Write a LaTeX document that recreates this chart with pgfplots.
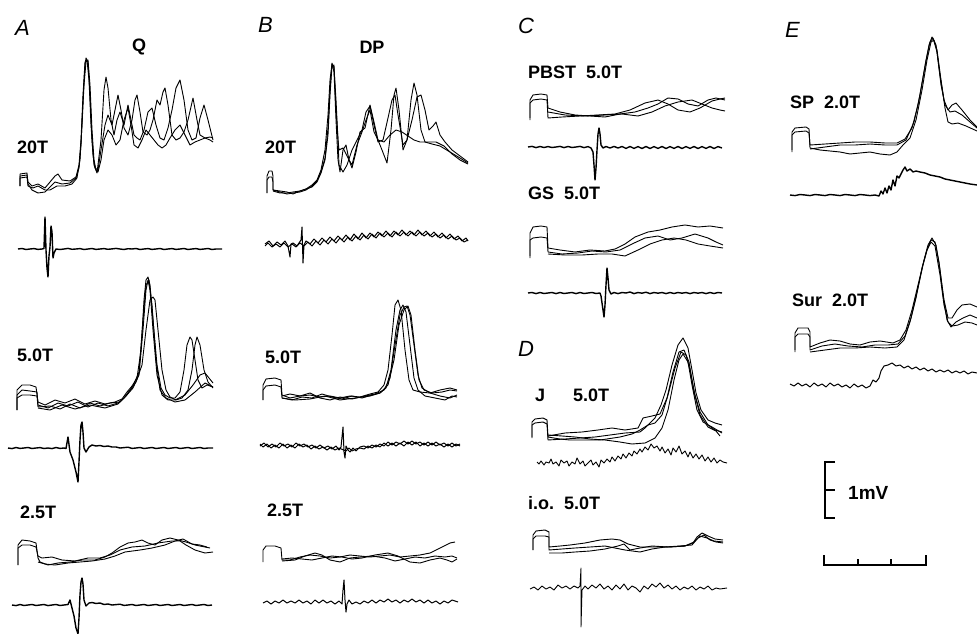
\documentclass[border=0pt]{standalone}
\usepackage{pgfplots}
\pgfplotsset{compat=1.18}
\usepackage{fontspec}
\setmainfont{Liberation Sans}
\pgfplotsset{tr/.style={black, line width=0.9pt, line join=round, no markers},
nz/.style={black, line width=1.4pt, line join=round, no markers},
bz/.style={black, line width=1.0pt, line join=round, no markers},
sb/.style={black, line width=1.6pt, no markers}}
\newcommand{\lab}[3]{\node[anchor=west,inner sep=0pt,font=\fontsize{18}{20}\selectfont\bfseries] at (axis cs:#1,#2) {#3};}
\newcommand{\pan}[3]{\node[anchor=west,inner sep=0pt,font=\fontsize{22}{24}\selectfont\itshape] at (axis cs:#1,#2) {#3};}
\begin{document}
\begin{tikzpicture}
\path[use as bounding box] (0,0) rectangle (977pt,634pt);
\begin{axis}[at={(0,0)},anchor=south west,x=1pt,y=1pt,xmin=0,xmax=977,ymin=0,ymax=634,y dir=reverse,hide axis,clip=false,scale only axis]
% ---------------- Panel A ----------------
\addplot[tr] coordinates {(20,186)(20,174)(27,173)(28,184)(32,190)(38,193)(45,192)(50,187)(55,182)(62,184)(70,183)(76,178)(79,168)(81,145)(83,100)(85,65)(86,58)(88,62)(90,95)(92,140)(94,165)(97,173)(101,140)(104,90)(106,77)(108,88)(111,120)(114,135)(117,120)(120,112)(124,125)(128,105)(131,120)(134,135)(137,138)(140,140)(144,130)(148,112)(152,108)(156,125)(160,138)(164,140)(168,128)(172,110)(176,88)(180,80)(184,100)(188,130)(192,140)(196,138)(200,118)(204,105)(208,120)(213,140)};
\addplot[tr] coordinates {(20,186)(20,176)(27,175)(28,182)(32,186)(38,184)(45,188)(50,182)(55,176)(58,174)(62,180)(70,181)(76,177)(79,165)(81,140)(83,95)(85,62)(87,60)(89,80)(91,125)(93,155)(95,168)(98,170)(101,150)(105,125)(108,115)(112,125)(115,110)(118,95)(121,110)(124,128)(128,135)(132,120)(135,100)(137,95)(140,112)(143,132)(147,135)(150,130)(153,120)(157,100)(160,105)(163,92)(165,88)(168,105)(172,135)(176,140)(180,138)(184,132)(188,120)(193,98)(197,120)(200,135)(205,138)(210,137)(213,138)};
\addplot[tr] coordinates {(20,186)(20,178)(27,177)(28,186)(33,188)(38,186)(45,190)(50,190)(57,186)(65,186)(72,184)(77,178)(80,160)(82,125)(84,85)(86,62)(88,60)(90,85)(92,130)(94,160)(96,170)(98,172)(101,160)(104,140)(108,130)(112,135)(116,145)(120,140)(124,120)(128,108)(131,125)(134,145)(138,148)(142,140)(146,130)(150,135)(154,140)(158,145)(162,148)(166,145)(170,138)(175,130)(180,125)(185,135)(190,145)(195,142)(200,140)(205,138)(210,140)(213,142)};
\addplot[nz] coordinates {(18,249)(22,248.5)(26,249.5)(30,249)(34,248.6)(38,249.4)(42,249)(44,248.5)(45,217)(46,250)(47,268)(48,277)(49,256)(50,247)(51,226)(52,232)(53,258)(54,253)(56,249)(60,249.5)(64,249)(68,248.4)(72,249.3)(76,249)(80,248.6)(84,249.5)(88,249)(92,248.5)(96,249.4)(100,249)(104,248.6)(108,249.3)(112,248.9)(116,248.4)(120,249)(124,249.5)(128,248.7)(132,249)(136,248.5)(140,249.5)(144,249)(148,248.6)(152,249.4)(156,249)(160,248.5)(164,249.5)(168,249)(172,248.6)(176,249.4)(180,249)(184,248.5)(188,249.5)(192,249)(196,248.6)(200,249.4)(204,249)(208,248.5)(212,249.5)(216,249)(222,249)};
\addplot[tr] coordinates {(17,410)(17,390)(22,385)(30,385)(36,387)(38,402)(45,405)(55,400)(65,403)(75,399)(85,404)(95,401)(105,404)(115,402)(122,399)(127,392)(132,386)(137,378)(141,350)(144,300)(146,280)(148,277)(150,285)(153,320)(157,365)(161,388)(165,395)(170,398)(175,398)(180,392)(184,370)(187,345)(190,337)(192,340)(195,360)(198,380)(202,388)(207,385)(213,387)};
\addplot[tr] coordinates {(17,410)(17,395)(22,390)(30,391)(37,392)(38,405)(48,408)(58,403)(68,406)(78,402)(88,407)(98,403)(108,406)(118,403)(124,398)(130,390)(136,382)(142,365)(146,330)(150,300)(153,297)(155,300)(158,330)(162,370)(166,390)(170,397)(176,400)(182,398)(188,390)(192,370)(195,345)(197,337)(200,345)(204,370)(208,382)(213,388)};
\addplot[tr] coordinates {(17,410)(17,398)(22,395)(30,395)(37,396)(38,407)(50,406)(60,409)(70,404)(80,408)(90,403)(100,406)(110,403)(120,402)(126,396)(133,388)(139,375)(143,330)(146,290)(148,280)(150,290)(153,330)(157,375)(162,395)(168,400)(175,400)(185,395)(193,385)(200,375)(205,373)(213,383)};
\addplot[tr] coordinates {(38,408)(50,410)(62,405)(75,409)(90,405)(105,408)(118,404)(126,396)(133,386)(139,372)(143,320)(146,285)(149,280)(152,305)(156,360)(160,390)(166,398)(175,402)(185,400)(195,392)(205,383)(213,387)};
\addplot[nz] coordinates {(8,448)(12,448.6)(16,447.5)(20,448.4)(24,448)(28,447.5)(32,448.5)(36,448)(40,447.6)(44,448.5)(48,448)(52,448.6)(56,447.5)(60,448.4)(64,448)(66,448.5)(68,437)(70,452)(73,460)(76,472)(78,482)(79,462)(80,440)(81,425)(82,422)(83,432)(84,448)(86,452)(89,447)(92,445)(96,446)(100,445.5)(104,446.5)(108,446)(112,447)(116,447)(120,448)(124,447.6)(128,447.2)(132,448.4)(136,448)(140,447.5)(144,448.5)(148,448)(152,447.5)(156,448.5)(160,448)(164,447.5)(168,448.5)(172,448)(176,447.5)(180,448.5)(184,448)(188,447.5)(192,448.5)(196,448)(200,447.5)(204,448.5)(208,448)(213,448)};
\addplot[tr] coordinates {(18,565)(18,545)(22,540)(30,541)(36,543)(38,558)(40,562)(48,565)(58,563)(70,562)(82,560)(95,560)(105,557)(112,553)(120,547)(128,543)(135,542)(142,540)(148,543)(155,545)(162,540)(170,538)(178,540)(186,542)(195,545)(205,547)(210,548)};
\addplot[tr] coordinates {(18,565)(18,548)(22,545)(30,545)(36,547)(38,556)(42,558)(52,557)(62,560)(75,561)(88,558)(100,558)(110,555)(120,550)(132,547)(145,546)(158,543)(172,541)(180,541)(186,545)(195,550)(205,553)(213,552)};
\addplot[tr] coordinates {(38,562)(45,564)(55,565)(68,563)(80,562)(92,561)(105,559)(115,556)(125,552)(140,550)(152,548)(165,545)(175,541)(183,539)(192,544)(200,545)(207,547)};
\addplot[nz] coordinates {(12,605)(16,605.6)(20,604.5)(24,605.5)(28,605)(32,604.5)(36,605.5)(40,605)(44,604.5)(48,605.6)(52,605)(56,604.5)(60,605.5)(64,605)(68,604.5)(70,600)(72,608)(74,616)(76,628)(78,634)(79,618)(80,595)(81,582)(82,578)(83,584)(84,600)(86,606)(89,603)(92,602.5)(96,603.5)(100,603)(104,604.5)(108,604)(112,605)(116,604.6)(120,604.2)(124,605.4)(128,605)(132,604.5)(136,605.5)(140,605)(144,604.5)(148,605.5)(152,605)(156,604.5)(160,605.5)(164,605)(168,604.5)(172,605.5)(176,605)(180,604.5)(184,605.5)(188,605)(192,604.5)(196,605.5)(200,605)(204,604.5)(208,605.5)(212,605)};
% ---------------- Panel B ----------------
\addplot[tr] coordinates {(267,193)(267,176)(269,171)(272,171)(273,176)(273,190)(280,192)(287,194)(293,193)(300,192)(306,190)(312,186)(317,181)(321,172)(325,158)(328,128)(330,90)(332,63)(334,72)(336,120)(338,160)(340,172)(343,150)(346,145)(349,160)(352,168)(356,152)(360,132)(365,128)(370,105)(374,122)(378,140)(382,150)(387,163)(391,130)(394,95)(396,88)(399,110)(403,150)(407,140)(411,100)(414,83)(417,95)(421,130)(425,142)(432,144)(440,146)(450,152)(460,158)(468,163)};
\addplot[tr] coordinates {(267,193)(267,180)(269,177)(272,177)(273,182)(273,190)(280,191)(287,192)(293,194)(300,191)(306,189)(312,185)(317,180)(321,170)(325,150)(328,115)(330,80)(332,64)(334,68)(336,100)(338,140)(339,165)(343,172)(347,165)(352,150)(358,138)(362,130)(366,112)(370,106)(374,125)(378,142)(383,140)(388,118)(392,100)(395,95)(398,115)(403,145)(407,140)(412,120)(417,97)(421,95)(425,110)(429,130)(433,126)(436,122)(440,135)(445,142)(452,150)(460,156)(468,162)};
\addplot[tr] coordinates {(273,191)(280,193)(287,193)(293,192)(300,191)(306,189)(312,187)(317,182)(321,173)(325,160)(328,135)(330,95)(332,66)(334,65)(336,110)(338,140)(339,150)(343,148)(348,158)(352,165)(357,145)(362,132)(366,120)(370,110)(374,132)(378,140)(384,142)(390,135)(396,130)(402,132)(408,136)(414,140)(420,142)(428,142)(436,142)(444,146)(452,154)(460,160)(468,164)};
\addplot[bz] coordinates {(265,244)(269,241)(273,246)(277,242)(281,245)(285,241)(288,246)(290,257)(291,244)(293,243)(297,246)(301,240)(302,227)(303,263)(304,245)(306,241)(310,244)(314,239)(318,243)(322,238)(326,242)(330,237)(334,241)(338,236)(342,240)(346,235)(350,240)(354,234)(358,239)(362,233)(366,238)(370,233)(374,237)(378,232)(382,236)(386,231)(390,236)(394,231)(398,235)(402,230)(406,235)(410,231)(414,235)(418,230)(422,235)(426,231)(430,236)(434,232)(438,237)(442,233)(446,238)(450,234)(454,239)(458,236)(462,241)(466,238)(468,241)};
\addplot[bz] coordinates {(265,246)(268,243)(272,247)(276,244)(280,247)(284,243)(288,247)(292,244)(296,247)(300,243)(304,246)(308,242)(312,246)(316,241)(320,245)(324,240)(328,244)(332,239)(336,243)(340,238)(344,242)(348,237)(352,241)(356,236)(360,240)(364,235)(368,239)(372,234)(376,238)(380,233)(384,237)(388,233)(392,237)(396,232)(400,236)(404,232)(408,236)(412,232)(416,236)(420,232)(424,236)(428,233)(432,237)(436,234)(440,238)(444,235)(448,239)(452,236)(456,240)(460,238)(464,242)(468,240)};
\addplot[tr] coordinates {(263,400)(263,385)(266,379)(275,378)(281,380)(282,395)(290,398)(300,396)(310,395)(320,397)(330,396)(340,398)(350,396)(360,397)(370,394)(378,392)(384,385)(388,370)(392,335)(395,305)(398,300)(401,310)(405,350)(409,380)(413,390)(420,392)(430,393)(440,390)(450,388)(457,390)};
\addplot[tr] coordinates {(263,400)(263,390)(266,386)(275,385)(281,387)(282,398)(292,400)(302,397)(312,398)(322,394)(332,397)(342,399)(352,396)(362,398)(372,395)(380,393)(386,388)(391,370)(396,330)(400,310)(403,305)(406,312)(410,345)(414,378)(418,390)(425,396)(435,398)(445,400)(452,396)(457,397)};
\addplot[tr] coordinates {(282,396)(290,394)(300,396)(310,393)(320,398)(330,400)(340,397)(352,399)(365,396)(375,394)(384,390)(390,378)(395,345)(400,315)(404,307)(407,306)(410,315)(414,345)(418,375)(422,388)(430,393)(440,396)(450,398)(457,395)};
\addplot[tr] coordinates {(282,398)(295,400)(310,399)(325,396)(340,400)(355,398)(370,396)(380,393)(388,385)(394,360)(399,325)(404,310)(408,306)(411,315)(415,350)(419,380)(424,390)(432,393)(442,392)(450,390)(457,391)};
\addplot[bz] coordinates {(260,446)(264,443)(268,447)(272,444)(276,447)(280,443)(284,446)(288,444)(292,447)(296,443)(300,446)(304,444)(308,447)(312,445)(316,448)(320,445)(324,448)(328,446)(332,449)(336,446)(339,450)(341,447)(343,427)(344,452)(345,458)(346,446)(348,450)(350,452)(353,448)(356,451)(360,447)(364,446)(368,448)(372,445)(376,447)(380,444)(384,446)(388,442)(392,445)(396,442)(400,444)(404,441)(408,444)(412,441)(416,444)(420,442)(424,445)(428,442)(432,445)(436,442)(440,445)(444,443)(448,446)(452,443)(456,446)(460,444)};
\addplot[bz] coordinates {(260,444)(263,447)(267,444)(271,448)(275,445)(279,448)(283,444)(287,448)(291,445)(295,448)(299,444)(303,447)(307,445)(311,449)(315,446)(319,449)(323,447)(327,450)(331,447)(335,450)(339,448)(346,451)(349,448)(352,451)(356,449)(360,448)(364,449)(368,446)(372,448)(376,445)(380,447)(384,443)(388,446)(392,443)(396,446)(400,443)(404,446)(408,442)(412,445)(416,442)(420,446)(424,443)(428,446)(432,443)(436,446)(440,444)(444,447)(448,444)(452,447)(456,444)(460,446)};
\addplot[tr] coordinates {(263,562)(263,550)(266,546)(275,546)(281,548)(282,560)(290,560)(300,557)(310,555)(320,556)(330,558)(340,557)(350,555)(360,556)(370,557)(380,556)(390,555)(400,557)(410,556)(420,555)(430,553)(440,548)(450,543)(455,542)};
\addplot[tr] coordinates {(282,561)(295,560)(305,556)(315,553)(322,555)(330,560)(340,562)(350,558)(360,557)(372,556)(385,558)(395,561)(405,559)(415,557)(425,558)(435,556)(445,557)(452,556)(457,558)};
\addplot[tr] coordinates {(282,559)(292,558)(302,559)(312,560)(322,558)(332,556)(342,557)(352,559)(362,558)(375,555)(388,553)(398,556)(410,562)(420,563)(430,560)(440,558)(447,560)(452,562)(457,559)};
\addplot[bz] coordinates {(263,603)(267,601)(271,604)(275,601)(279,603)(283,600)(287,603)(291,601)(295,603)(299,600)(303,603)(307,601)(311,604)(315,600)(319,603)(323,600)(327,603)(331,601)(335,604)(339,601)(342,604)(343,590)(344,580)(345,600)(346,612)(347,604)(349,600)(352,604)(356,602)(360,604)(364,601)(368,603)(372,600)(376,603)(380,600)(384,602)(388,599)(392,602)(396,600)(400,603)(404,600)(408,602)(412,599)(416,602)(420,600)(424,603)(428,600)(432,603)(436,601)(440,604)(444,601)(448,603)(452,600)(458,602)};
% ---------------- Panel C ----------------
\addplot[tr] coordinates {(530,120)(530,100)(533,95)(541,94)(547,95)(548,108)(560,112)(575,115)(590,116)(605,117)(620,114)(635,112)(648,108)(658,104)(668,98)(678,99)(688,104)(698,106)(708,100)(716,98)(725,100)};
\addplot[tr] coordinates {(530,118)(530,103)(533,100)(541,99)(547,100)(548,118)(562,117)(580,116)(598,115)(615,114)(630,110)(645,103)(658,100)(668,104)(678,110)(690,112)(700,108)(712,101)(720,99)(725,98)};
\addplot[tr] coordinates {(548,112)(565,115)(585,116)(605,115)(622,114)(638,116)(652,112)(665,106)(678,102)(692,100)(702,104)(712,108)(720,110)(725,111)};
\addplot[nz] coordinates {(528,147)(532,146.4)(536,147.6)(540,146.5)(544,147.5)(548,146.6)(552,147.5)(556,147)(560,146.4)(564,147.6)(568,146.5)(572,147.5)(576,147)(580,146.4)(584,147.6)(588,146.6)(591,148)(593,152)(594,165)(595,180)(596,168)(597,150)(598,134)(599,128)(600,134)(601,145)(603,148)(606,146.5)(610,148)(614,146.4)(618,148)(622,146.5)(626,148.4)(630,146.5)(634,148.4)(638,146.6)(642,148.5)(646,146.5)(650,148.5)(654,146.6)(658,148.4)(662,146.5)(666,148.5)(670,146.6)(674,148.4)(678,146.5)(682,148.5)(686,146.6)(690,148.4)(694,146.5)(698,148.5)(702,146.6)(706,148.4)(710,146.5)(714,148.5)(718,146.6)(722,148)};
\addplot[tr] coordinates {(530,258)(530,233)(533,227)(541,226)(547,227)(548,248)(560,250)(575,252)(590,250)(605,251)(615,249)(625,244)(635,237)(648,232)(660,230)(672,227)(685,225)(698,227)(710,226)(723,228)};
\addplot[tr] coordinates {(530,256)(530,240)(533,238)(541,237)(547,238)(548,252)(562,254)(578,253)(592,251)(606,252)(620,250)(632,244)(645,238)(658,236)(670,240)(682,238)(695,234)(708,238)(716,242)(723,245)};
\addplot[tr] coordinates {(548,254)(565,255)(582,255)(598,254)(612,254)(625,256)(638,250)(650,244)(662,240)(674,238)(686,240)(698,244)(710,246)(723,248)};
\addplot[nz] coordinates {(528,293)(532,292.5)(536,293.6)(540,292.5)(544,293.5)(548,293)(552,292.5)(556,293.6)(560,292.5)(564,293.5)(568,293)(572,292.5)(576,293.6)(580,292.5)(584,293.5)(588,293)(592,292.5)(596,293.5)(600,293)(601,296)(603,310)(604,317)(605,305)(606,285)(607,268)(608,278)(609,290)(611,294)(614,292.5)(618,293.6)(622,292.5)(626,293)(630,292)(634,293.6)(638,292.5)(642,293.2)(646,292.2)(650,293.6)(654,292.5)(658,293.2)(662,292.5)(666,293.6)(670,292.5)(674,293.5)(678,292.5)(682,293.2)(686,292.5)(690,293.6)(694,292.5)(698,293.2)(702,292.5)(706,293.6)(710,292.5)(714,293.5)(718,292.5)(722,293)};
% ---------------- Panel D ----------------
\addplot[tr] coordinates {(532,438)(532,422)(535,419)(543,418)(547,420)(548,437)(560,439)(570,440)(585,440)(600,440)(620,437)(632,434)(640,430)(648,425)(655,418)(661,405)(666,390)(672,365)(678,345)(683,338)(688,348)(692,370)(696,393)(701,410)(708,420)(715,423)(722,425)};
\addplot[tr] coordinates {(532,437)(532,425)(535,423)(543,422)(547,424)(548,440)(565,439)(580,438)(595,437)(610,435)(625,433)(640,432)(645,428)(648,425)(655,423)(662,415)(668,395)(675,368)(681,352)(686,355)(690,370)(695,395)(700,412)(708,425)(715,430)(722,432)};
\addplot[tr] coordinates {(548,435)(562,436)(575,437)(590,439)(605,440)(620,442)(632,444)(645,443)(655,438)(662,428)(668,410)(674,380)(679,360)(683,354)(688,362)(692,385)(697,410)(703,422)(712,427)(722,433)};
\addplot[tr] coordinates {(548,436)(565,433)(582,432)(598,430)(612,428)(625,430)(638,428)(643,418)(652,416)(660,414)(667,398)(673,372)(679,352)(684,350)(689,362)(694,392)(700,415)(708,427)(716,431)(720,436)};
\addplot[tr] coordinates {(537,462)(539,464)(541,461)(544,465)(546,462)(549,463)(551,459)(553,464)(556,462)(559,466)(561,460)(564,463)(567,461)(569,466)(572,462)(575,464)(577,458)(580,464)(583,461)(585,466)(588,463)(591,460)(593,465)(596,462)(599,467)(601,460)(604,463)(607,459)(610,462)(612,457)(615,461)(618,456)(621,459)(623,454)(626,458)(629,453)(632,456)(634,451)(637,454)(640,449)(642,452)(645,447)(648,450)(651,444)(654,448)(657,446)(660,451)(662,447)(665,453)(668,449)(671,455)(673,448)(676,452)(679,446)(682,454)(685,451)(688,457)(690,452)(693,458)(696,454)(699,459)(702,455)(705,461)(708,457)(711,462)(714,458)(717,463)(720,460)(723,462)(727,463)};
\addplot[tr] coordinates {(533,550)(533,535)(536,531)(545,530)(549,532)(549,547)(560,546)(570,545)(585,543)(600,540)(612,539)(620,540)(628,544)(640,547)(655,547)(670,547)(685,546)(693,543)(697,537)(702,533)(708,536)(715,539)(723,540)};
\addplot[tr] coordinates {(533,550)(533,539)(536,536)(545,536)(549,537)(549,550)(562,549)(575,548)(590,547)(605,546)(615,548)(625,550)(640,552)(652,549)(665,547)(680,546)(692,545)(698,538)(704,535)(710,540)(716,542)(723,543)};
\addplot[tr] coordinates {(549,553)(562,553)(575,552)(590,551)(605,549)(618,546)(624,544)(630,550)(640,548)(652,546)(668,547)(685,546)(694,542)(700,536)(707,538)(714,541)(723,542)};
\addplot[tr] coordinates {(530,589)(534,587)(538,590)(542,586)(546,589)(550,587)(554,590)(558,585)(562,588)(566,586)(570,589)(574,586)(578,588)(580,586)(581,568)(581,627)(582,590)(585,586)(588,589)(592,585)(596,588)(600,584)(604,589)(608,586)(612,590)(616,585)(620,589)(624,584)(628,590)(632,586)(636,588)(640,592)(644,586)(648,589)(652,584)(656,587)(660,583)(664,588)(668,585)(672,589)(676,586)(680,590)(684,587)(688,589)(692,586)(696,590)(700,587)(704,589)(708,586)(712,590)(716,588)(720,589)(727,588)};
% ---------------- Panel E ----------------
\addplot[tr] coordinates {(792,152)(792,132)(795,128)(806,127)(809,129)(810,148)(820,150)(830,151)(840,152)(850,154)(860,153)(870,152)(880,154)(890,155)(897,152)(903,145)(910,138)(916,120)(922,90)(927,60)(931,42)(934,40)(937,50)(941,80)(945,108)(948,122)(952,124)(958,123)(966,126)(977,131)};
\addplot[tr] coordinates {(792,150)(792,135)(795,132)(806,131)(809,133)(810,145)(825,144)(840,143)(855,142)(870,142)(885,143)(897,143)(905,139)(912,128)(918,105)(924,72)(929,45)(932,37)(936,45)(940,75)(944,100)(948,110)(952,105)(956,103)(962,110)(970,120)(977,127)};
\addplot[tr] coordinates {(810,149)(825,147)(840,145)(855,145)(870,144)(885,145)(897,145)(906,140)(914,122)(920,95)(926,60)(930,42)(933,38)(937,52)(941,85)(945,105)(950,112)(955,111)(962,115)(970,122)(977,128)};
\addplot[nz] coordinates {(790,195)(795,195.6)(800,194.5)(805,195)(810,195.6)(815,194.5)(820,195)(825,195.6)(830,194.5)(835,195)(840,195.6)(845,194.5)(850,195)(855,195.6)(860,194.5)(865,195)(870,195.6)(875,195)(879,196)(881,191)(883,194)(885,188)(887,193)(889,186)(891,190)(893,180)(895,186)(897,176)(899,178)(901,174)(903,170)(905,167)(907,171)(910,169)(913,172)(916,171)(920,172)(925,173)(930,175)(935,176)(940,177)(945,179)(950,180)(955,181)(960,182)(965,183)(970,184)(977,185)};
\addplot[tr] coordinates {(795,350)(795,333)(798,328)(808,328)(810,332)(810,347)(820,343)(830,340)(840,341)(850,344)(860,345)(870,342)(880,341)(893,343)(900,340)(906,330)(912,310)(918,285)(924,260)(928,245)(932,238)(936,245)(940,270)(944,300)(948,318)(952,318)(957,310)(962,305)(970,304)(977,307)};
\addplot[tr] coordinates {(795,352)(795,337)(798,334)(808,334)(810,337)(810,350)(822,346)(835,344)(848,346)(862,347)(875,345)(888,345)(898,344)(905,336)(911,318)(917,292)(923,265)(927,250)(931,240)(935,242)(939,262)(943,295)(947,320)(951,327)(956,322)(963,318)(970,315)(977,318)};
\addplot[tr] coordinates {(810,352)(825,350)(840,348)(855,348)(870,347)(885,348)(897,347)(904,340)(910,322)(916,298)(922,268)(927,250)(931,242)(935,246)(940,275)(944,305)(948,322)(952,326)(958,325)(965,322)(972,323)(977,325)};
\addplot[bz] coordinates {(790,384)(794,386)(798,383)(802,386)(806,384)(810,387)(814,383)(818,386)(822,384)(826,387)(830,383)(834,386)(838,384)(842,387)(846,385)(850,388)(854,384)(858,387)(862,385)(866,388)(870,386)(873,380)(876,382)(879,378)(881,371)(884,366)(888,365)(892,363)(896,366)(900,365)(904,368)(908,366)(912,369)(916,367)(920,370)(924,368)(928,371)(932,369)(936,372)(940,370)(944,372)(948,370)(952,373)(956,371)(960,373)(964,371)(968,374)(972,372)(977,373)};
% scale bars
\addplot[sb] coordinates {(835,462)(825,462)(825,518)(835,518)};
\addplot[sb] coordinates {(825,490)(835,490)};
\addplot[sb] coordinates {(824,555)(824,565)(926,565)(926,555)};
\addplot[sb] coordinates {(858,565)(858,559)};
\addplot[sb] coordinates {(891,565)(891,559)};
% labels
\pan{15}{28}{A}
\pan{258}{25}{B}
\pan{518}{26}{C}
\pan{518}{349}{D}
\pan{785}{30}{E}
\node[inner sep=0pt,font=\fontsize{18}{20}\selectfont\bfseries] at (axis cs:139,47) {Q};
\node[inner sep=0pt,font=\fontsize{18}{20}\selectfont\bfseries] at (axis cs:372,47) {DP};
\lab{17}{147}{20T}
\lab{17}{355}{5.0T}
\lab{20}{512}{2.5T}
\lab{265}{147}{20T}
\lab{265}{357}{5.0T}
\lab{267}{510}{2.5T}
\lab{528}{72}{PBST\ \ 5.0T}
\lab{528}{193}{GS\ \ 5.0T}
\lab{535}{395}{J}
\lab{573}{395}{5.0T}
\lab{528}{503}{i.o.\ \ 5.0T}
\lab{790}{102}{SP\ \ 2.0T}
\lab{792}{300}{Sur\ \ 2.0T}
\node[anchor=west,inner sep=0pt,font=\fontsize{19}{21}\selectfont\bfseries] at (axis cs:848,493) {1mV};
\end{axis}
\end{tikzpicture}
\end{document}
